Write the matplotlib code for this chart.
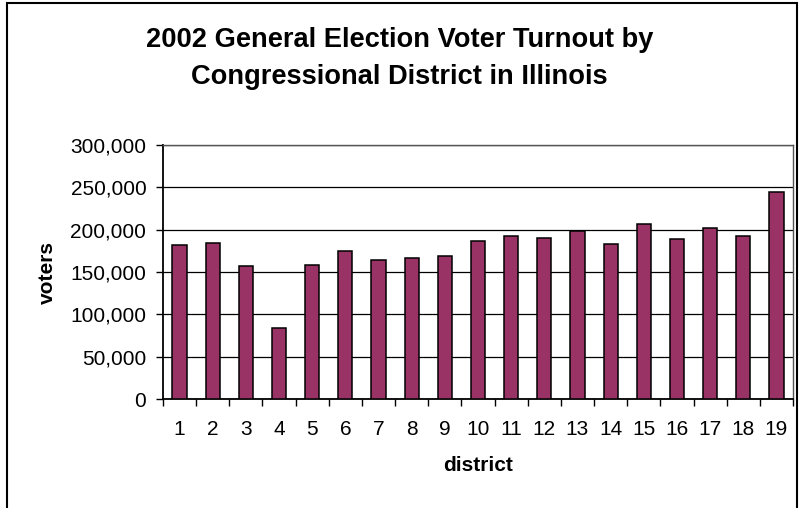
import matplotlib
matplotlib.use("Agg")
import matplotlib.pyplot as plt
from matplotlib.patches import Rectangle
from matplotlib.ticker import FuncFormatter

plt.rcParams['font.family'] = ['Liberation Sans', 'DejaVu Sans']

# data
districts = list(range(1, 20))
voters = [182200, 184200, 156700, 84400, 158600, 174400, 164500, 166500, 168500,
          186200, 192400, 190400, 198300, 182600, 206200, 188500, 202200, 192400, 244300]
y_ticks = [0, 50000, 100000, 150000, 200000, 250000, 300000]
title_lines = ['2002 General Election Voter Turnout by', 'Congressional District in Illinois']

fig = plt.figure(figsize=(7.99, 5.08), dpi=100)
ax = fig.add_axes([0.204, 0.214, 0.7885, 0.501])

# outer chart border
fig.patches.append(Rectangle((7 / 799, -0.05), 790 / 799, 1.05 - 3 / 508,
                             transform=fig.transFigure, fill=False,
                             edgecolor='black', linewidth=1.5))

ax.set_axisbelow(True)
ax.yaxis.grid(True, color='black', linewidth=0.9)
ax.bar(districts, voters, width=0.43, color='#993366', edgecolor='black', linewidth=1.1, zorder=3)

ax.set_xlim(0.5, 19.5)
ax.set_ylim(0, 300000)
ax.set_yticks(y_ticks)
ax.yaxis.set_major_formatter(FuncFormatter(lambda v, p: f'{int(v):,}'))
ax.tick_params(axis='y', direction='out', length=5, width=1, labelsize=15, pad=7)

# ticks between categories, labels at centres
ax.set_xticks([i + 0.5 for i in range(0, 20)])
ax.set_xticklabels([])
ax.set_xticks(districts, minor=True)
ax.set_xticklabels([str(d) for d in districts], minor=True)
ax.tick_params(axis='x', which='major', direction='out', length=5, width=1)
ax.tick_params(axis='x', which='minor', length=0, labelsize=15, pad=15)

for s in ['left', 'bottom']:
    ax.spines[s].set_linewidth(1.3)
for s in ['top', 'right']:
    ax.spines[s].set_color('#555555')
    ax.spines[s].set_linewidth(1)

ax.set_xlabel('district', fontsize=15, fontweight='bold', labelpad=12)
ax.set_ylabel('voters', fontsize=15, fontweight='bold', labelpad=10)

fig.text(0.5, 1 - 40 / 508, title_lines[0], ha='center', va='center', fontsize=19.6, fontweight='bold')
fig.text(0.5, 1 - 77 / 508, title_lines[1], ha='center', va='center', fontsize=19.6, fontweight='bold')

fig.savefig('out.png', dpi=100)
